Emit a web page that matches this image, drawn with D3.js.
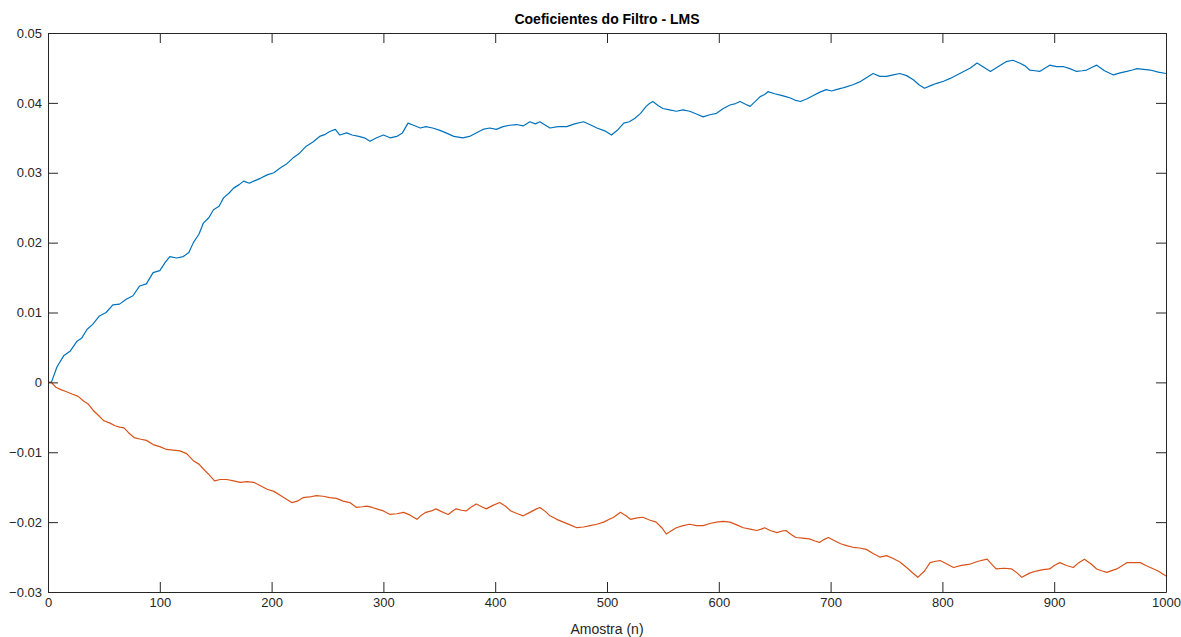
<!DOCTYPE html>
<html>
<head>
<meta charset="utf-8">
<script src="https://cdn.jsdelivr.net/npm/d3@7"></script>
<style>
  body { margin: 0; background: #fff; }
  svg { display: block; font-family: "Liberation Sans", Arial, sans-serif; }
</style>
</head>
<body>
<svg id="chart" width="1181" height="637"></svg>
<script>
const width = 1181;
const height = 637;

// valores: amostra n e coeficiente
const xTicks = [0, 100, 200, 300, 400, 500, 600, 700, 800, 900, 1000];
const yTicks = [-0.03, -0.02, -0.01, 0, 0.01, 0.02, 0.03, 0.04, 0.05];

const coef1N = [0, 3, 8, 14, 20, 26, 30, 35, 40, 46, 52, 58, 64, 70, 76, 82, 88, 94, 100, 105, 109, 115, 121, 126, 130, 135, 139, 144, 148, 153, 157, 162, 166, 171, 175, 180, 184, 190, 196, 202, 208, 213, 219, 225, 231, 237, 243, 248, 252, 257, 261, 267, 272, 278, 283, 288, 294, 300, 306, 312, 317, 322, 327, 333, 338, 344, 350, 356, 363, 371, 377, 383, 389, 395, 401, 407, 413, 419, 425, 431, 436, 440, 445, 449, 456, 464, 471, 479, 486, 491, 498, 504, 510, 515, 520, 525, 530, 535, 538, 541, 546, 550, 556, 562, 568, 574, 580, 586, 592, 598, 604, 610, 615, 619, 624, 628, 632, 637, 641, 644, 650, 655, 660, 664, 668, 673, 679, 685, 690, 696, 701, 705, 710, 714, 720, 726, 732, 738, 744, 750, 756, 762, 768, 774, 779, 784, 790, 795, 801, 807, 813, 819, 825, 831, 837, 843, 850, 857, 863, 869, 874, 878, 883, 887, 892, 896, 902, 908, 914, 920, 925, 929, 934, 938, 945, 953, 959, 965, 970, 974, 980, 986, 993, 1000];
const coef1V = [0, 0, 0.0022, 0.0038, 0.0045, 0.0059, 0.0063, 0.0076, 0.0083, 0.0095, 0.0100, 0.0111, 0.0112, 0.0119, 0.0124, 0.0138, 0.0141, 0.0157, 0.0160, 0.0172, 0.0180, 0.0178, 0.0180, 0.0186, 0.0200, 0.0212, 0.0228, 0.0236, 0.0247, 0.0252, 0.0264, 0.0271, 0.0278, 0.0283, 0.0288, 0.0285, 0.0288, 0.0292, 0.0297, 0.0300, 0.0307, 0.0312, 0.0321, 0.0328, 0.0338, 0.0344, 0.0352, 0.0355, 0.0359, 0.0362, 0.0354, 0.0357, 0.0354, 0.0352, 0.0350, 0.0345, 0.0350, 0.0354, 0.0350, 0.0352, 0.0357, 0.0371, 0.0368, 0.0364, 0.0366, 0.0364, 0.0361, 0.0357, 0.0352, 0.0350, 0.0352, 0.0357, 0.0362, 0.0364, 0.0362, 0.0366, 0.0368, 0.0369, 0.0367, 0.0373, 0.0370, 0.0373, 0.0368, 0.0364, 0.0366, 0.0366, 0.0370, 0.0373, 0.0368, 0.0364, 0.0360, 0.0354, 0.0362, 0.0371, 0.0373, 0.0378, 0.0385, 0.0395, 0.0399, 0.0402, 0.0396, 0.0392, 0.0390, 0.0388, 0.0390, 0.0388, 0.0384, 0.0380, 0.0383, 0.0385, 0.0392, 0.0397, 0.0399, 0.0402, 0.0398, 0.0395, 0.0401, 0.0409, 0.0412, 0.0416, 0.0413, 0.0411, 0.0409, 0.0407, 0.0404, 0.0402, 0.0406, 0.0411, 0.0415, 0.0419, 0.0417, 0.0419, 0.0421, 0.0423, 0.0426, 0.0430, 0.0436, 0.0442, 0.0438, 0.0438, 0.0440, 0.0442, 0.0439, 0.0433, 0.0426, 0.0421, 0.0425, 0.0428, 0.0431, 0.0435, 0.0440, 0.0445, 0.0450, 0.0457, 0.0451, 0.0445, 0.0452, 0.0459, 0.0461, 0.0457, 0.0453, 0.0447, 0.0446, 0.0445, 0.0450, 0.0454, 0.0452, 0.0452, 0.0449, 0.0445, 0.0446, 0.0447, 0.0451, 0.0454, 0.0446, 0.0440, 0.0443, 0.0445, 0.0447, 0.0449, 0.0448, 0.0447, 0.0444, 0.0442];

const coef2N = [0, 3, 7, 11, 16, 22, 27, 32, 36, 41, 45, 50, 55, 60, 64, 68, 72, 77, 82, 88, 94, 100, 106, 112, 118, 124, 130, 135, 139, 144, 149, 154, 160, 166, 172, 178, 184, 190, 196, 202, 208, 213, 218, 223, 228, 234, 240, 246, 252, 258, 264, 270, 276, 281, 285, 290, 294, 300, 306, 312, 318, 324, 330, 334, 338, 343, 347, 352, 358, 362, 365, 370, 374, 378, 383, 388, 392, 398, 404, 409, 414, 420, 425, 431, 437, 440, 445, 449, 455, 461, 467, 473, 479, 485, 491, 497, 502, 506, 512, 517, 521, 527, 532, 538, 544, 549, 553, 558, 562, 568, 574, 580, 586, 592, 598, 604, 610, 616, 622, 628, 634, 638, 641, 646, 652, 656, 660, 665, 669, 675, 681, 686, 690, 694, 698, 704, 709, 715, 720, 726, 732, 738, 744, 750, 756, 762, 768, 773, 778, 784, 789, 794, 798, 804, 810, 817, 825, 832, 840, 844, 848, 855, 862, 867, 871, 878, 884, 890, 896, 900, 905, 911, 917, 922, 927, 933, 938, 943, 947, 952, 956, 961, 965, 971, 977, 982, 986, 993, 1000];
const coef2V = [0, 0, -0.0007, -0.0010, -0.0013, -0.0017, -0.0020, -0.0027, -0.0031, -0.0041, -0.0047, -0.0055, -0.0058, -0.0062, -0.0064, -0.0065, -0.0072, -0.0079, -0.0081, -0.0083, -0.0089, -0.0092, -0.0096, -0.0097, -0.0098, -0.0102, -0.0112, -0.0117, -0.0124, -0.0132, -0.0141, -0.0139, -0.0139, -0.0141, -0.0143, -0.0142, -0.0143, -0.0148, -0.0153, -0.0156, -0.0162, -0.0167, -0.0172, -0.0170, -0.0165, -0.0164, -0.0162, -0.0163, -0.0165, -0.0166, -0.0170, -0.0172, -0.0179, -0.0178, -0.0177, -0.0179, -0.0181, -0.0184, -0.0189, -0.0188, -0.0186, -0.0190, -0.0196, -0.0190, -0.0186, -0.0184, -0.0181, -0.0185, -0.0189, -0.0184, -0.0181, -0.0183, -0.0184, -0.0179, -0.0174, -0.0178, -0.0181, -0.0176, -0.0172, -0.0177, -0.0184, -0.0188, -0.0191, -0.0186, -0.0181, -0.0179, -0.0185, -0.0191, -0.0196, -0.0200, -0.0204, -0.0208, -0.0207, -0.0205, -0.0203, -0.0200, -0.0196, -0.0193, -0.0186, -0.0191, -0.0196, -0.0194, -0.0193, -0.0197, -0.0200, -0.0208, -0.0217, -0.0212, -0.0208, -0.0205, -0.0203, -0.0205, -0.0205, -0.0202, -0.0200, -0.0199, -0.0200, -0.0204, -0.0208, -0.0210, -0.0212, -0.0210, -0.0208, -0.0212, -0.0215, -0.0213, -0.0212, -0.0218, -0.0222, -0.0223, -0.0224, -0.0227, -0.0229, -0.0225, -0.0222, -0.0227, -0.0231, -0.0234, -0.0236, -0.0237, -0.0239, -0.0245, -0.0250, -0.0248, -0.0252, -0.0257, -0.0265, -0.0272, -0.0279, -0.0270, -0.0258, -0.0256, -0.0255, -0.0260, -0.0265, -0.0262, -0.0260, -0.0256, -0.0253, -0.0260, -0.0267, -0.0266, -0.0267, -0.0273, -0.0279, -0.0273, -0.0270, -0.0268, -0.0267, -0.0262, -0.0258, -0.0262, -0.0265, -0.0258, -0.0253, -0.0260, -0.0267, -0.0270, -0.0272, -0.0269, -0.0267, -0.0262, -0.0258, -0.0258, -0.0258, -0.0262, -0.0265, -0.0270, -0.0277];

const margin = { top: 33, right: 15, bottom: 45, left: 48 };
const x = d3.scaleLinear().domain([0, 1000]).range([margin.left, width - margin.right]);
const y = d3.scaleLinear().domain([-0.03, 0.05]).range([height - margin.bottom, margin.top]);

const svg = d3.select("#chart");
const axisColor = "#262626";
const tickLen = 10;

// linhas dos coeficientes
const line = d3.line()
  .x(d => x(d[0]))
  .y(d => y(d[1]));

const series = [
  { n: coef1N, v: coef1V, color: "#0072BD" },
  { n: coef2N, v: coef2V, color: "#D95319" }
];

svg.append("g")
  .selectAll("path")
  .data(series)
  .enter()
  .append("path")
  .attr("fill", "none")
  .attr("stroke", d => d.color)
  .attr("stroke-width", 1.2)
  .attr("stroke-linejoin", "round")
  .attr("d", d => line(d.n.map((n, i) => [n, d.v[i]])));

// eixos (estilo caixa, ticks para dentro)
const fmtY = v => (Math.abs(v) < 1e-9 ? "0" : d3.format("")(+v.toFixed(2)));

svg.append("g")
  .attr("transform", `translate(0,${y(-0.03)})`)
  .call(d3.axisBottom(x).tickValues(xTicks).tickSizeInner(-tickLen).tickSizeOuter(0).tickPadding(6).tickFormat(d3.format("d")));

svg.append("g")
  .attr("transform", `translate(0,${y(0.05)})`)
  .call(d3.axisTop(x).tickValues(xTicks).tickSizeInner(-tickLen).tickSizeOuter(0).tickFormat(""));

svg.append("g")
  .attr("transform", `translate(${x(0)},0)`)
  .call(d3.axisLeft(y).tickValues(yTicks).tickSizeInner(-tickLen).tickSizeOuter(0).tickPadding(6).tickFormat(fmtY));

svg.append("g")
  .attr("transform", `translate(${x(1000)},0)`)
  .call(d3.axisRight(y).tickValues(yTicks).tickSizeInner(-tickLen).tickSizeOuter(0).tickFormat(""));

svg.selectAll(".domain").attr("stroke", axisColor).attr("stroke-width", 1);
svg.selectAll(".tick line").attr("stroke", axisColor);
svg.selectAll(".tick text")
  .attr("fill", axisColor)
  .style("font-size", "13px")
  .style("font-family", "'Liberation Sans', Arial, sans-serif");

// título e rótulo do eixo x
svg.append("text")
  .attr("x", (x(0) + x(1000)) / 2)
  .attr("y", 24)
  .attr("text-anchor", "middle")
  .attr("fill", "#000")
  .style("font-size", "14px")
  .style("font-weight", "bold")
  .text("Coeficientes do Filtro - LMS");

svg.append("text")
  .attr("x", (x(0) + x(1000)) / 2)
  .attr("y", 634)
  .attr("text-anchor", "middle")
  .attr("fill", axisColor)
  .style("font-size", "14px")
  .text("Amostra (n)");
</script>
</body>
</html>
